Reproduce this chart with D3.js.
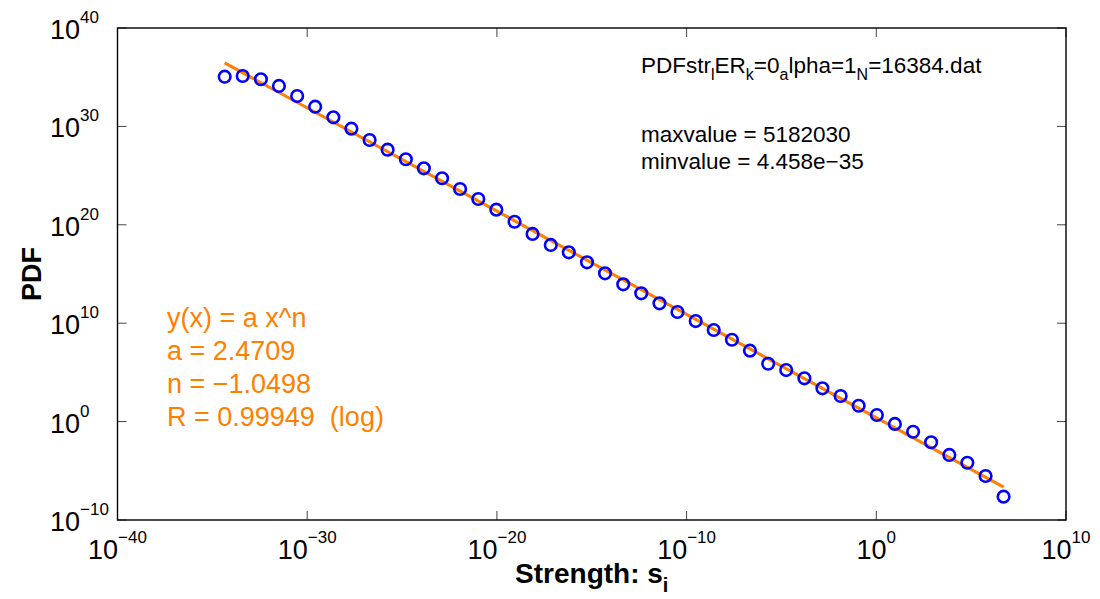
<!DOCTYPE html>
<html>
<head>
<meta charset="utf-8">
<script src="https://cdn.jsdelivr.net/npm/d3@7"></script>
<style>
  body { margin: 0; background: #fff; }
  svg { font-family: "Liberation Sans", Arial, Helvetica, sans-serif; }
</style>
</head>
<body>
<script>
// tamaño de la figura
const width = 1100;
const height = 599;
const margin = { top: 28, right: 34, bottom: 79, left: 117.5 };

// datos: log10 de la fuerza (x) y log10 de la PDF (y)
const logStrength = [-34.35, -33.40, -32.44, -31.49, -30.53, -29.58, -28.62, -27.67, -26.71, -25.76,
  -24.80, -23.85, -22.89, -21.94, -20.98, -20.03, -19.07, -18.12, -17.16, -16.21,
  -15.25, -14.30, -13.34, -12.39, -11.43, -10.48, -9.52, -8.57, -7.61, -6.66,
  -5.70, -4.75, -3.79, -2.84, -1.88, -0.93, 0.03, 0.98, 1.94, 2.89,
  3.85, 4.80, 5.76, 6.71];
const logPdf = [35.05, 35.12, 34.79, 34.11, 33.09, 32.00, 30.92, 29.77, 28.62, 27.63,
  26.66, 25.74, 24.73, 23.64, 22.62, 21.54, 20.31, 19.07, 17.95, 17.20,
  16.19, 15.07, 13.95, 13.04, 12.02, 11.14, 10.22, 9.31, 8.32, 7.21,
  5.88, 5.24, 4.40, 3.38, 2.60, 1.61, 0.67, -0.24, -1.03, -2.10,
  -3.39, -4.18, -5.53, -7.63];

// ajuste potencia y = a x^n
const fitA = 2.4709;
const fitN = -1.0498;
const fitRange = [4.458e-35, 5182030];

// ticks (exponentes)
const xTickExp = [-40, -30, -20, -10, 0, 10];
const yTickExp = [-10, 0, 10, 20, 30, 40];

// textos
const fileLabel = [["PDFstr", false], ["l", true], ["ER", false], ["k", true], ["=0", false],
  ["a", true], ["lpha=1", false], ["N", true], ["=16384.dat", false]];
const statLines = ["maxvalue = 5182030", "minvalue = 4.458e\u221235"];
const fitLines = ["y(x) = a x^n", "a = 2.4709", "n = \u22121.0498", "R = 0.99949  (log)"];

const orange = "#ff7f00";

const x = d3.scaleLog()
  .domain([1e-40, 1e10])
  .range([margin.left, width - margin.right]);
const y = d3.scaleLog()
  .domain([1e-10, 1e40])
  .range([height - margin.bottom, margin.top]);

const svg = d3.select("body")
  .append("svg")
  .attr("width", width)
  .attr("height", height);

const x0 = margin.left, x1 = width - margin.right;
const y0 = height - margin.bottom, y1 = margin.top;

// ticks hacia adentro en los cuatro lados
const tickLen = 9;
const ticks = svg.append("g").attr("stroke", "#444").attr("stroke-width", 1);
xTickExp.forEach(e => {
  const px = x(Math.pow(10, e));
  ticks.append("line").attr("x1", px).attr("x2", px).attr("y1", y0).attr("y2", y0 - tickLen);
  ticks.append("line").attr("x1", px).attr("x2", px).attr("y1", y1).attr("y2", y1 + tickLen);
});
yTickExp.forEach(e => {
  const py = y(Math.pow(10, e));
  ticks.append("line").attr("x1", x0).attr("x2", x0 + tickLen).attr("y1", py).attr("y2", py);
  ticks.append("line").attr("x1", x1).attr("x2", x1 - tickLen).attr("y1", py).attr("y2", py);
});

// caja
svg.append("rect")
  .attr("x", x0).attr("y", y1)
  .attr("width", x1 - x0).attr("height", y0 - y1)
  .attr("fill", "none").attr("stroke", "#000").attr("stroke-width", 1.4);

// etiquetas de ticks
function expLabel(sel, e) {
  sel.append("tspan").text("10");
  sel.append("tspan")
    .attr("font-size", 17)
    .attr("dy", -16)
    .text(e < 0 ? "\u2212" + Math.abs(e) : String(e));
}
xTickExp.forEach(e => {
  const t = svg.append("text")
    .attr("x", x(Math.pow(10, e)))
    .attr("y", 559)
    .attr("text-anchor", "middle")
    .attr("font-size", 27)
    .attr("fill", "#000");
  expLabel(t, e);
});
yTickExp.forEach(e => {
  const t = svg.append("text")
    .attr("x", 50)
    .attr("y", y(Math.pow(10, e)) + 11)
    .attr("text-anchor", "start")
    .attr("font-size", 27)
    .attr("fill", "#000");
  expLabel(t, e);
});

// titulos de ejes
const xl = svg.append("text")
  .attr("x", (x0 + x1) / 2)
  .attr("y", 583)
  .attr("text-anchor", "middle")
  .attr("font-size", 28)
  .attr("font-weight", "bold");
xl.append("tspan").text("Strength: s");
xl.append("tspan").attr("font-size", 20).attr("dy", 9).text("i");

svg.append("text")
  .attr("transform", `translate(41,${(y0 + y1) / 2}) rotate(-90)`)
  .attr("text-anchor", "middle")
  .attr("font-size", 27)
  .attr("font-weight", "bold")
  .text("PDF");

// linea de ajuste
const fitLine = d3.line()
  .x(d => x(d))
  .y(d => y(fitA * Math.pow(d, fitN)));
svg.append("path")
  .datum(fitRange)
  .attr("d", fitLine)
  .attr("fill", "none")
  .attr("stroke", orange)
  .attr("stroke-width", 3);

// puntos
svg.append("g")
  .selectAll("circle")
  .data(logStrength.map((v, i) => [Math.pow(10, v), Math.pow(10, logPdf[i])]))
  .enter()
  .append("circle")
  .attr("cx", d => x(d[0]))
  .attr("cy", d => y(d[1]))
  .attr("r", 5.8)
  .attr("fill", "none")
  .attr("stroke", "#0000ff")
  .attr("stroke-width", 2.6);

// texto del archivo
const ft = svg.append("text")
  .attr("x", 641)
  .attr("y", 73)
  .attr("font-size", 22.5);
let sub = false;
fileLabel.forEach(([s, isSub]) => {
  const dy = isSub === sub ? 0 : (isSub ? 7 : -7);
  ft.append("tspan")
    .attr("dy", dy)
    .attr("font-size", isSub ? 16 : 22.5)
    .text(s);
  sub = isSub;
});

svg.append("g")
  .selectAll("text")
  .data(statLines)
  .enter()
  .append("text")
  .attr("x", 641)
  .attr("y", (d, i) => 142 + i * 26.5)
  .attr("font-size", 22.5)
  .text(d => d);

svg.append("g")
  .selectAll("text")
  .data(fitLines)
  .enter()
  .append("text")
  .attr("x", 167)
  .attr("y", (d, i) => 327 + i * 33)
  .attr("font-size", 27)
  .attr("fill", orange)
  .style("white-space", "pre")
  .text(d => d);
</script>
</body>
</html>
